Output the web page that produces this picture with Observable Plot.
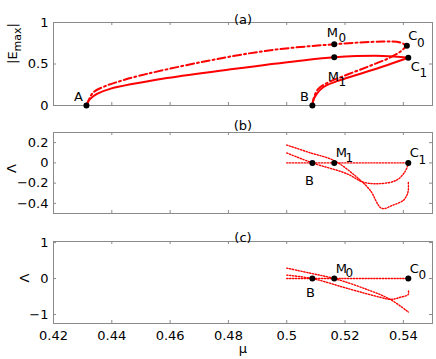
<!DOCTYPE html>
<html><head><meta charset="utf-8">
<script src="https://cdn.jsdelivr.net/npm/d3@7"></script>
<script src="https://cdn.jsdelivr.net/npm/@observablehq/plot@0.6"></script>
<style>
body{margin:0;background:#fff;}
#chart{width:436px;}
#chart svg{display:block;}
</style></head><body><div id="chart"></div>
<script>
// ---------- data ----------
const xTicks = [0.42, 0.44, 0.46, 0.48, 0.5, 0.52, 0.54];
const yTicksA = [0, 0.5, 1];
const yTicksB = [0.2, 0, -0.2, -0.4];
const yTicksC = [1, 0, -1];

// panel (a): |E_max| vs mu
const solidUpperMu = [0.4313, 0.4318, 0.4326, 0.4349, 0.4394, 0.4589, 0.4816, 0.5046, 0.5163, 0.5330, 0.5417];
const solidUpperE  = [0, 0.04, 0.08, 0.14, 0.20, 0.33, 0.44, 0.54, 0.58, 0.597, 0.575];
const solidLowerMu = [0.5088, 0.5091, 0.5103, 0.5125, 0.5170, 0.5250, 0.5330, 0.5417];
const solidLowerE  = [0, 0.06, 0.14, 0.22, 0.29, 0.38, 0.47, 0.575];
const dashUpperMu = [0.4313, 0.4320, 0.4337, 0.4382, 0.4416, 0.4473, 0.4703, 0.4932, 0.5163, 0.5330, 0.5389, 0.5412];
const dashUpperE  = [0, 0.06, 0.16, 0.24, 0.28, 0.34, 0.52, 0.66, 0.738, 0.77, 0.76, 0.72];
const dashLowerMu = [0.5088, 0.5092, 0.5108, 0.5150, 0.5206, 0.5280, 0.5350, 0.5390, 0.5412];
const dashLowerE  = [0, 0.08, 0.20, 0.29, 0.37, 0.47, 0.57, 0.65, 0.72];
const pointsAName = ["A", "B", "M", "C", "M", "C"];
const pointsASub  = ["", "", "0", "0", "1", "1"];
const pointsAMu   = [0.4313, 0.5088, 0.5163, 0.5412, 0.5163, 0.5417];
const pointsAE    = [0, 0, 0.738, 0.72, 0.58, 0.575];

// panel (b): Lambda vs mu (stationary branch 1)
const bZeroMu = [0.5, 0.5417];
const bZeroL  = [0, 0];
const b1Mu = [0.5, 0.5080, 0.5163, 0.5240, 0.5286, 0.5326, 0.5365, 0.5400, 0.5412, 0.5417, 0.5417];
const b1L  = [0.176, 0.10, 0.022, -0.14, -0.27, -0.449, -0.417, -0.37, -0.32, -0.27, -0.19];
const b2Mu = [0.5, 0.5088, 0.5206, 0.5262, 0.5320, 0.5377, 0.5405, 0.5417];
const b2L  = [0.098, 0, -0.107, -0.19, -0.205, -0.17, -0.09, -0.01];
const pointsBName = ["B", "M", "C"];
const pointsBSub  = ["", "1", "1"];
const pointsBMu   = [0.5088, 0.5163, 0.5417];
const pointsBL    = [0, 0, 0];

// panel (c): Lambda vs mu (stationary branch 0)
const cZeroMu = [0.5, 0.5417];
const cZeroL  = [0, 0];
const c1Mu = [0.5, 0.5080, 0.5163, 0.5274, 0.5354, 0.5417];
const c1L  = [0.29, 0.15, 0, -0.30, -0.575, -0.93];
const c2Mu = [0.5, 0.5088, 0.5206, 0.5320, 0.5357, 0.5390, 0.5417, 0.5417];
const c2L  = [0.095, 0, -0.27, -0.52, -0.58, -0.52, -0.44, -0.32];
const pointsCName = ["B", "M", "C"];
const pointsCSub  = ["", "0", "0"];
const pointsCMu   = [0.5088, 0.5163, 0.5417];
const pointsCL    = [0, 0, 0];

// ---------- helpers ----------
const rows = (mu, v) => mu.map((m, i) => ({mu: m, v: v[i]}));
const pts = (names, subs, mu, v) => mu.map((m, i) => ({mu: m, v: v[i], name: names[i], sub: subs[i]}));
const W = 436, ML = 53, MR = 4;
const FW = W - ML - MR;
const RED = "#ff0000", FR = "#8a8a8a";
const FONT = "DejaVu Sans";
const FS = 13, FSS = 12;
const fmt = d => d < 0 ? "\u2212" + Math.abs(d) : String(d);

// label offsets (style layer)
const off = {
  a: [{dx:-8,dy:-9},{dx:-8,dy:-9},{dx:-2,dy:-11,sdx:8,sdy:-6},{dx:6,dy:-10,sdx:14,sdy:-3},{dx:-1,dy:19,sdx:8,sdy:25},{dx:7,dy:9,sdx:15,sdy:15}],
  b: [{dx:-3,dy:18},{dx:7,dy:-10,sdx:15,sdy:-5},{dx:6,dy:-10,sdx:14,sdy:-3}],
  c: [{dx:-2,dy:14},{dx:7,dy:-10,sdx:15,sdy:-5},{dx:6,dy:-10,sdx:14,sdy:-3}]
};

function labelMarks(points, offs) {
  const m = [];
  points.forEach((p, i) => {
    const o = offs[i];
    m.push(Plot.text([p], {x: "mu", y: "v", text: "name", dx: o.dx, dy: o.dy, fontSize: FS, fill: "black"}));
    if (p.sub) m.push(Plot.text([p], {x: "mu", y: "v", text: "sub", dx: o.sdx, dy: o.sdy, fontSize: FSS, fill: "black"}));
  });
  return m;
}

function panel({height, mt, mb, yDomain, yTicks, title, titleDy, ylabel, ylabelDx, marks, xLabels}) {
  const fh = height - mt - mb;
  const all = [
    Plot.frame({stroke: FR, strokeWidth: 1}),
    Plot.tickX(xTicks, {x: d => d, insetTop: fh - 3, stroke: FR}),
    Plot.tickX(xTicks, {x: d => d, insetBottom: fh - 3, stroke: FR}),
    Plot.tickY(yTicks, {y: d => d, insetRight: FW - 3, stroke: FR}),
    Plot.tickY(yTicks, {y: d => d, insetLeft: FW - 3, stroke: FR}),
    Plot.axisY(yTicks, {anchor: "left", tickSize: 0, tickPadding: 5, tickFormat: fmt, fontSize: FS, label: null, fill: "black"}),
    Plot.text([title], {frameAnchor: "top", dy: titleDy, text: d => d, fontSize: FS, fill: "black"}),
    Plot.text([ylabel], {frameAnchor: "left", dx: ylabelDx, rotate: -90, text: d => d, fontSize: FS, fill: "black"}),
    ...marks
  ];
  if (xLabels) {
    all.push(Plot.axisX(xTicks, {anchor: "bottom", tickSize: 0, tickPadding: 7, tickFormat: fmt, fontSize: FS, label: null, fill: "black"}));
    all.push(Plot.text(["\u03bc"], {frameAnchor: "bottom", dy: 29, text: d => d, fontSize: FS, fill: "black"}));
  }
  return Plot.plot({
    width: W, height, marginLeft: ML, marginRight: MR, marginTop: mt, marginBottom: mb,
    style: {fontFamily: FONT, fontSize: FS + "px", background: "white", overflow: "visible"},
    x: {domain: [0.42, 0.55], axis: null},
    y: {domain: yDomain, axis: null},
    marks: all
  });
}

const solid = {x: "mu", y: "v", stroke: RED, strokeWidth: 2, curve: "catmull-rom"};
const dashdot = {...solid, strokeDasharray: "8,3,2,3"};
const dotted = {x: "mu", y: "v", stroke: RED, strokeWidth: 1.4, strokeDasharray: "1.3,1.6", curve: "catmull-rom"};

const pA = pts(pointsAName, pointsASub, pointsAMu, pointsAE);
const pB = pts(pointsBName, pointsBSub, pointsBMu, pointsBL);
const pC = pts(pointsCName, pointsCSub, pointsCMu, pointsCL);

const figA = panel({height: 112, mt: 22, mb: 7, yDomain: [0, 1], yTicks: yTicksA, title: "(a)", titleDy: -8,
  ylabel: "|Emax|", ylabelDx: -41, marks: [
    Plot.line(rows(solidUpperMu, solidUpperE), solid),
    Plot.line(rows(solidLowerMu, solidLowerE), solid),
    Plot.line(rows(dashUpperMu, dashUpperE), dashdot),
    Plot.line(rows(dashLowerMu, dashLowerE), dashdot),
    Plot.dot(pA, {x: "mu", y: "v", r: 3, fill: "black"}),
    ...labelMarks(pA, off.a)
  ]});

const figB = panel({height: 110, mt: 20, mb: 9, yDomain: [-0.5, 0.3], yTicks: yTicksB, title: "(b)", titleDy: -12,
  ylabel: "\u039b", ylabelDx: -42, marks: [
    Plot.line(rows(bZeroMu, bZeroL), dotted),
    Plot.line(rows(b1Mu, b1L), dotted),
    Plot.line(rows(b2Mu, b2L), dotted),
    Plot.dot(pB, {x: "mu", y: "v", r: 3, fill: "black"}),
    ...labelMarks(pB, off.b)
  ]});

const figC = panel({height: 137, mt: 19, mb: 36, yDomain: [-1.25, 1.03], yTicks: yTicksC, title: "(c)", titleDy: -9,
  ylabel: "\u039b", ylabelDx: -29, xLabels: true, marks: [
    Plot.line(rows(cZeroMu, cZeroL), dotted),
    Plot.line(rows(c1Mu, c1L), dotted),
    Plot.line(rows(c2Mu, c2L), dotted),
    Plot.dot(pC, {x: "mu", y: "v", r: 3, fill: "black"}),
    ...labelMarks(pC, off.c)
  ]});

const root = document.getElementById("chart");
[figA, figB, figC].forEach(f => root.appendChild(f));

// subscript in |E_max|
d3.select(figA).selectAll("text").each(function() {
  if (this.textContent === "|Emax|") {
    const t = d3.select(this);
    t.text("");
    t.append("tspan").text("|E");
    t.append("tspan").attr("dy", 4).attr("font-size", 11).text("max");
    t.append("tspan").attr("dy", -4).text("|");
  }
});
</script>
</body></html>
